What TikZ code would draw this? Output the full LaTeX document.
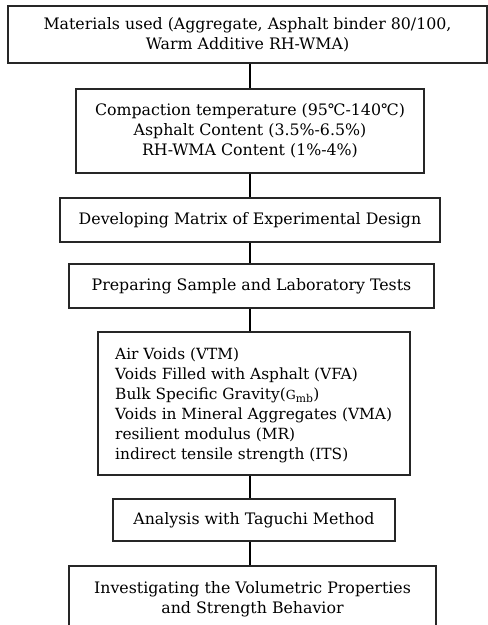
\documentclass[tikz,border=0pt]{standalone}
\usepackage{fontspec}
\setmainfont{DejaVu Serif}
\tikzset{
  box/.style={draw=black!85, line width=1.2pt, fill=white, inner sep=0pt, align=center,
    font=\fontsize{15.8}{20}\selectfont},
  txt/.style={inner sep=0pt, align=left, font=\fontsize{15.4}{20}\selectfont},
  link/.style={draw=black, line width=1.2pt}
}
\newcommand{\degC}{℃}
\begin{document}
\begin{tikzpicture}[x=1pt,y=-1pt]
\useasboundingbox (0,0) rectangle (488,625);
\coordinate (spine) at (250,0);
\node[box, minimum width=479pt, minimum height=57pt] (b1) at (247.5,34.5)
  {Materials used (Aggregate, Asphalt binder 80/100,\\ Warm Additive RH-WMA)};
\node[box, minimum width=348pt, minimum height=84pt] (b2) at (250,131)
  {Compaction temperature (95\degC-140\degC)\\ Asphalt Content (3.5\%-6.5\%)\\ RH-WMA Content (1\%-4\%)};
\node[box, minimum width=380pt, minimum height=44pt] (b3) at (250,220)
  {Developing Matrix of Experimental Design};
\node[box, minimum width=365pt, minimum height=44pt] (b4) at (251.5,286)
  {Preparing Sample and Laboratory Tests};
\node[box, minimum width=312pt, minimum height=143pt] (b5) at (254,403.5) {};
\node[txt, anchor=west] (b5t) at (115,405)
  {Air Voids (VTM)\\ Voids Filled with Asphalt (VFA)\\ Bulk Specific Gravity({\fontsize{12.5}{12}\selectfont G}\textsubscript{mb})\\ Voids in Mineral Aggregates (VMA)\\ resilient modulus (MR)\\ indirect tensile strength (ITS)};
\node[box, minimum width=282pt, minimum height=42pt] (b6) at (254,520)
  {Analysis with Taguchi Method};
\node[box, minimum width=367pt, minimum height=66pt] (b7) at (252.5,599)
  {Investigating the Volumetric Properties\\ and Strength Behavior};
\draw[link] (b1.south -| spine) -- (b2.north -| spine);
\draw[link] (b2.south -| spine) -- (b3.north -| spine);
\draw[link] (b3.south -| spine) -- (b4.north -| spine);
\draw[link] (b4.south -| spine) -- (b5.north -| spine);
\draw[link] (b5.south -| spine) -- (b6.north -| spine);
\draw[link] (b6.south -| spine) -- (b7.north -| spine);
\end{tikzpicture}
\end{document}
